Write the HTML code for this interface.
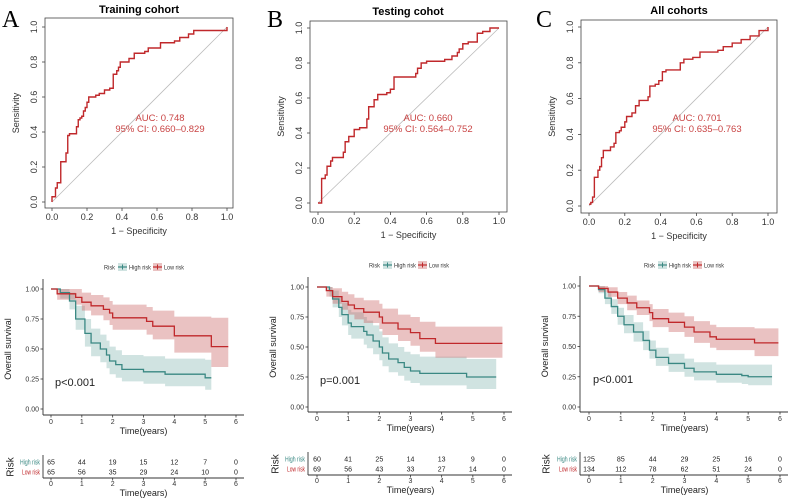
<!DOCTYPE html>
<html><head><meta charset="utf-8"><style>
body{margin:0;background:#fff;}
svg{display:block;font-family:"Liberation Sans",Arial,sans-serif;}
</style></head><body>
<svg id="fig" width="793" height="499" viewBox="0 0 793 499"></svg>
<script>
// ROC data (1-specificity, sensitivity) step points
const rocA_fpr=[0,0,0.02,0.03,0.05,0.07,0.08,0.09,0.1,0.13,0.14,0.15,0.16,0.17,0.18,0.19,0.2,0.21,0.25,0.27,0.3,0.33,0.35,0.35,0.37,0.38,0.39,0.44,0.47,0.53,0.55,0.62,0.62,0.7,0.73,0.78,0.81,1.0,1.0];
const rocA_tpr=[0,0.03,0.08,0.11,0.23,0.23,0.28,0.38,0.39,0.39,0.43,0.47,0.48,0.49,0.52,0.54,0.57,0.6,0.61,0.62,0.64,0.65,0.66,0.73,0.75,0.77,0.8,0.82,0.85,0.86,0.88,0.88,0.91,0.92,0.94,0.96,0.98,0.98,1.0];
const rocB_fpr=[0,0.02,0.02,0.04,0.05,0.07,0.08,0.13,0.14,0.15,0.17,0.2,0.2,0.23,0.26,0.27,0.28,0.31,0.31,0.33,0.38,0.4,0.41,0.42,0.53,0.54,0.55,0.57,0.6,0.7,0.74,0.77,0.78,0.8,0.83,0.88,0.88,0.91,0.95,1];
const rocB_tpr=[0,0,0.14,0.16,0.21,0.24,0.26,0.26,0.29,0.35,0.38,0.38,0.42,0.43,0.43,0.48,0.55,0.55,0.59,0.62,0.63,0.65,0.65,0.72,0.72,0.74,0.77,0.8,0.81,0.82,0.84,0.86,0.88,0.91,0.92,0.92,0.97,0.98,1.0,1.0];
const rocC_fpr=[0,0.01,0.02,0.03,0.03,0.05,0.06,0.07,0.08,0.12,0.14,0.15,0.17,0.18,0.2,0.21,0.24,0.26,0.28,0.33,0.34,0.37,0.39,0.41,0.43,0.5,0.51,0.53,0.58,0.62,0.72,0.75,0.8,0.85,0.9,0.95,1,1];
const rocC_tpr=[0.01,0.02,0.05,0.07,0.16,0.2,0.22,0.27,0.31,0.33,0.35,0.41,0.42,0.44,0.47,0.5,0.52,0.56,0.59,0.61,0.67,0.68,0.7,0.75,0.76,0.76,0.8,0.82,0.83,0.86,0.87,0.89,0.91,0.93,0.95,0.98,0.99,1.0];
const rocTicks=[0,0.2,0.4,0.6,0.8,1.0];
const rocTickLabels=["0.0","0.2","0.4","0.6","0.8","1.0"];
const rocTitles=["Training cohort","Testing cohot","All cohorts"];
const aucLabels=["AUC: 0.748","AUC: 0.660","AUC: 0.701"];
const ciLabels=["95% CI: 0.660\u20130.829","95% CI: 0.564\u20130.752","95% CI: 0.635\u20130.763"];

// KM data
const kmA_hi_t=[0,0.3,0.6,0.8,1.1,1.3,1.6,1.8,1.9,2.1,2.3,3.0,3.7,5.0,5.2];
const kmA_hi_s=[1,0.97,0.9,0.75,0.63,0.55,0.5,0.45,0.4,0.37,0.33,0.31,0.29,0.26,0.26];
const kmA_hi_lo=[1,0.92,0.83,0.66,0.52,0.44,0.39,0.34,0.29,0.26,0.23,0.21,0.19,0.16,0.16];
const kmA_hi_up=[1,1,0.97,0.86,0.75,0.67,0.62,0.57,0.52,0.49,0.45,0.44,0.42,0.41,0.41];
const kmA_lo_t=[0,0.2,0.8,1.0,1.3,1.7,1.9,2.0,3.1,3.3,4.0,5.2,5.75];
const kmA_lo_s=[1,0.96,0.93,0.89,0.86,0.83,0.8,0.76,0.73,0.69,0.61,0.52,0.52];
const kmA_lo_lo=[1,0.91,0.87,0.82,0.78,0.74,0.7,0.66,0.62,0.58,0.47,0.35,0.35];
const kmA_lo_up=[1,1,1,0.97,0.95,0.93,0.9,0.87,0.85,0.82,0.77,0.76,0.76];
const kmB_hi_t=[0,0.4,0.5,0.7,0.8,1.0,1.1,1.5,1.6,1.8,2.0,2.1,2.3,2.6,2.8,3.0,3.3,4.8,5.75];
const kmB_hi_s=[1,0.97,0.9,0.83,0.77,0.7,0.67,0.63,0.6,0.55,0.5,0.45,0.4,0.37,0.33,0.3,0.28,0.25,0.25];
const kmB_hi_lo=[1,0.92,0.83,0.75,0.68,0.6,0.57,0.52,0.49,0.44,0.39,0.34,0.29,0.26,0.22,0.2,0.18,0.15,0.15];
const kmB_hi_up=[1,1,0.97,0.92,0.87,0.81,0.79,0.75,0.72,0.68,0.63,0.58,0.53,0.5,0.46,0.44,0.42,0.4,0.4];
const kmB_lo_t=[0,0.3,0.5,0.8,1.0,1.2,1.5,2.0,2.1,2.6,3.0,3.3,3.8,5.95];
const kmB_lo_s=[1,0.97,0.92,0.88,0.85,0.82,0.79,0.75,0.7,0.65,0.62,0.57,0.53,0.53];
const kmB_lo_lo=[1,0.92,0.86,0.81,0.77,0.73,0.7,0.65,0.6,0.55,0.51,0.46,0.41,0.41];
const kmB_lo_up=[1,1,0.99,0.96,0.94,0.91,0.89,0.86,0.82,0.77,0.75,0.71,0.67,0.67];
const kmC_hi_t=[0,0.3,0.5,0.7,0.9,1.1,1.4,1.7,1.9,2.1,2.5,3.0,3.3,4.0,4.8,5.0,5.75];
const kmC_hi_s=[1,0.97,0.9,0.83,0.75,0.68,0.62,0.55,0.47,0.41,0.36,0.32,0.29,0.27,0.26,0.25,0.25];
const kmC_hi_lo=[1,0.94,0.85,0.77,0.68,0.61,0.54,0.47,0.4,0.34,0.29,0.25,0.22,0.2,0.19,0.18,0.18];
const kmC_hi_up=[1,1,0.95,0.89,0.82,0.76,0.7,0.63,0.55,0.49,0.44,0.4,0.37,0.35,0.35,0.35,0.35];
const kmC_lo_t=[0,0.3,0.6,0.9,1.2,1.5,1.9,2.0,2.5,3.0,3.3,3.8,4.0,5.2,5.95];
const kmC_lo_s=[1,0.98,0.95,0.9,0.86,0.82,0.78,0.73,0.7,0.66,0.62,0.58,0.56,0.53,0.53];
const kmC_lo_lo=[1,0.95,0.91,0.85,0.8,0.76,0.71,0.66,0.62,0.58,0.53,0.49,0.47,0.42,0.42];
const kmC_lo_up=[1,1,0.99,0.95,0.92,0.88,0.85,0.81,0.78,0.75,0.71,0.68,0.66,0.65,0.65];
const kmTimeTicks=[0,1,2,3,4,5,6];
const kmYTicks=[0,0.25,0.5,0.75,1];
const kmYLabels=["0.00","0.25","0.50","0.75","1.00"];
const pLabels=["p<0.001","p=0.001","p<0.001"];
const tableHigh=[[65,44,19,15,12,7,0],[60,41,25,14,13,9,0],[125,85,44,29,25,16,0]];
const tableLow=[[65,56,35,29,24,10,0],[69,56,43,33,27,14,0],[134,112,78,62,51,24,0]];

const NS="http://www.w3.org/2000/svg";
const svg=document.getElementById('fig');
function mk(tag,attrs,parent,text){const e=document.createElementNS(NS,tag);for(const k in attrs)e.setAttribute(k,attrs[k]);if(text!==undefined)e.textContent=text;(parent||svg).appendChild(e);return e;}
const RED="#c0282b",TEAL="#3a8883",RED_BAND="rgba(200,95,95,0.38)",TEAL_BAND="rgba(120,175,170,0.35)";

const rocGeo=[
 {L:45,T:18,R:233,B:208,x0:52,x1:227,y0:202,y1:27,letter:"A",lx:2,tx:139,ty:13,ax:160},
 {L:310,T:21,R:507,B:212,x0:318,x1:499,y0:203,y1:28,letter:"B",lx:267,tx:408,ty:15,ax:428},
 {L:581,T:20,R:777,B:213,x0:589,x1:768,y0:206,y1:27,letter:"C",lx:536,tx:679,ty:14,ax:697}];
const rocData=[[rocA_fpr,rocA_tpr],[rocB_fpr,rocB_tpr],[rocC_fpr,rocC_tpr]];

rocGeo.forEach((g,i)=>{
  const grp=mk('g',{});
  
  
  const X=v=>g.x0+v*(g.x1-g.x0), Y=v=>g.y0-v*(g.y0-g.y1);
  const lt=mk('text',{x:g.lx,y:27,'font-family':'Liberation Serif,serif','font-size':24},grp,g.letter);
  
  
  const tt=mk('text',{x:g.tx,y:g.ty,'text-anchor':'middle','font-size':11,'font-weight':'bold'},grp,rocTitles[i]);
  
  
  const box=mk('rect',{x:g.L,y:g.T,width:g.R-g.L,height:g.B-g.T,fill:'none',stroke:'#444','stroke-width':0.8},grp);
  
  
  const diag=mk('line',{x1:X(0),y1:Y(0),x2:X(1),y2:Y(1),stroke:'#bbb','stroke-width':0.8},grp);
  
  
  rocTicks.forEach((t,k)=>{
    mk('line',{x1:X(t),y1:g.B,x2:X(t),y2:g.B+3,stroke:'#444','stroke-width':0.8},grp);
    const xl=mk('text',{x:X(t),y:g.B+12,'text-anchor':'middle','font-size':9,fill:'#333'},grp,rocTickLabels[k]);
    
    
    mk('line',{x1:g.L,y1:Y(t),x2:g.L-3,y2:Y(t),stroke:'#444','stroke-width':0.8},grp);
    const yl=mk('text',{x:g.L-8,y:Y(t),'text-anchor':'middle','font-size':9,fill:'#333',transform:`rotate(-90 ${g.L-8} ${Y(t)})`},grp,rocTickLabels[k]);
    
    
  });
  const xt=mk('text',{x:(g.L+g.R)/2,y:g.B+26,'text-anchor':'middle','font-size':9,fill:'#333'},grp,'1 \u2212 Specificity');
  
  
  const yc=(g.T+g.B)/2;
  const yt=mk('text',{x:g.L-26,y:yc,'text-anchor':'middle','font-size':9,fill:'#333',transform:`rotate(-90 ${g.L-26} ${yc})`},grp,'Sensitivity');
  
  
  const [fx,ty]=rocData[i];
  let d=`M${X(fx[0])},${Y(ty[0])}`;
  for(let k=1;k<fx.length;k++){d+=` H${X(fx[k])} V${Y(ty[k])}`;}
  const p=mk('path',{d,fill:'none',stroke:RED,'stroke-width':1.4},grp);
  
  
  const a1=mk('text',{x:g.ax,y:121,'text-anchor':'middle','font-size':9.5,fill:'#c94444'},grp,aucLabels[i]);
  
  
  const a2=mk('text',{x:g.ax,y:132,'text-anchor':'middle','font-size':9.5,fill:'#c94444'},grp,ciLabels[i]);
  
  
});

const kmGeo=[
 {ax:43,x0:51,x6:236,y1:289,y0:409,xa:415,top:279,r1:462,r2:472,ta:478,pY:386,legX:104,legY:267,riskX:10,px:55},
 {ax:308,x0:317,x6:504,y1:287,y0:407,xa:412,top:277,r1:459,r2:469,ta:475,pY:384,legX:369,legY:265,riskX:275,px:320},
 {ax:580,x0:589,x6:780,y1:286,y0:407,xa:412,top:276,r1:459,r2:469,ta:475,pY:383,legX:644,legY:265,riskX:546,px:593}];
const kmData=[
 [[kmA_hi_t,kmA_hi_s,kmA_hi_lo,kmA_hi_up],[kmA_lo_t,kmA_lo_s,kmA_lo_lo,kmA_lo_up]],
 [[kmB_hi_t,kmB_hi_s,kmB_hi_lo,kmB_hi_up],[kmB_lo_t,kmB_lo_s,kmB_lo_lo,kmB_lo_up]],
 [[kmC_hi_t,kmC_hi_s,kmC_hi_lo,kmC_hi_up],[kmC_lo_t,kmC_lo_s,kmC_lo_lo,kmC_lo_up]]];

function stepPath(t,s,X,Y){let d=`M${X(t[0])},${Y(s[0])}`;for(let k=1;k<t.length;k++)d+=` H${X(t[k])} V${Y(s[k])}`;return d;}
function bandPath(t,lo,up,X,Y){
  let d=`M${X(t[0])},${Y(up[0])}`;
  for(let k=1;k<t.length;k++)d+=` H${X(t[k])} V${Y(up[k])}`;
  d+=` V${Y(lo[t.length-1])}`;
  for(let k=t.length-1;k>0;k--)d+=` H${X(t[k])} V${Y(lo[k-1])}`;
  d+=` H${X(t[0])} Z`;return d;}

kmGeo.forEach((g,i)=>{
  const grp=mk('g',{});
  
  
  const X=v=>g.x0+v*(g.x6-g.x0)/6, Y=v=>g.y0-v*(g.y0-g.y1);
  // legend
  const lg=mk('g',{},grp);
  
  
  mk('text',{x:g.legX,y:g.legY+2.5,'font-size':6.5,fill:'#333',textLength:11,lengthAdjust:'spacingAndGlyphs'},lg,'Risk');
  [[TEAL,TEAL_BAND,'High risk',g.legX+14,22],[RED,RED_BAND,'Low risk',g.legX+49,20]].forEach(([c,b,lab,x,w])=>{
    const e=mk('g',{},lg);
    
    
    mk('rect',{x:x,y:g.legY-4,width:9,height:8,fill:b},e);
    mk('line',{x1:x,y1:g.legY,x2:x+9,y2:g.legY,stroke:c,'stroke-width':1.2},e);
    mk('line',{x1:x+4.5,y1:g.legY-2.5,x2:x+4.5,y2:g.legY+2.5,stroke:c,'stroke-width':1},e);
    mk('text',{x:x+11,y:g.legY+2.5,'font-size':6.5,fill:'#333',textLength:w,lengthAdjust:'spacingAndGlyphs'},e,lab);
  });
  // bands + curves
  const cols=[[TEAL,TEAL_BAND,'high-risk'],[RED,RED_BAND,'low-risk']];
  kmData[i].forEach(([t,s,lo,up],j)=>{
    const b=mk('path',{d:bandPath(t,lo,up,X,Y),fill:cols[j][1],stroke:'none'},grp);
    
    
  });
  kmData[i].forEach(([t,s,lo,up],j)=>{
    const c=mk('path',{d:stepPath(t,s,X,Y),fill:'none',stroke:cols[j][0],'stroke-width':1.3},grp);
    
    
  });
  // axes
  mk('line',{x1:g.ax,y1:g.top,x2:g.ax,y2:g.xa,stroke:'#333','stroke-width':0.9},grp);
  mk('line',{x1:g.ax,y1:g.xa,x2:g.x6+8,y2:g.xa,stroke:'#333','stroke-width':0.9},grp);
  kmYTicks.forEach((v,k)=>{
    mk('line',{x1:g.ax-2.5,y1:Y(v),x2:g.ax,y2:Y(v),stroke:'#333','stroke-width':0.8},grp);
    const l=mk('text',{x:g.ax-4,y:Y(v)+2.5,'text-anchor':'end','font-size':7,fill:'#333'},grp,kmYLabels[k]);
    
    
  });
  kmTimeTicks.forEach(t=>{
    mk('line',{x1:X(t),y1:g.xa,x2:X(t),y2:g.xa+2.5,stroke:'#333','stroke-width':0.8},grp);
    const l=mk('text',{x:X(t),y:g.xa+9,'text-anchor':'middle','font-size':7,fill:'#333'},grp,String(t));
    
    
  });
  const xt=mk('text',{x:X(3),y:g.xa+19,'text-anchor':'middle','font-size':9,fill:'#222'},grp,'Time(years)');
  
  
  const yc=(g.y0+g.y1)/2, yx=g.ax-32;
  const yt=mk('text',{x:yx,y:yc,'text-anchor':'middle','font-size':9,fill:'#222',transform:`rotate(-90 ${yx} ${yc})`},grp,'Overall survival');
  
  
  const pv=mk('text',{x:g.px,y:g.pY,'font-size':11,fill:'#222'},grp,pLabels[i]);
  
  
  // risk table
  const tb=mk('g',{},grp);
  
  
  const rc=(g.r1+g.r2)/2;
  mk('text',{x:g.riskX,y:rc,'text-anchor':'middle','font-size':10,fill:'#222',transform:`rotate(-90 ${g.riskX} ${rc})`,dy:3.5},tb,'Risk');
  mk('line',{x1:g.ax,y1:g.r1-7,x2:g.ax,y2:g.ta,stroke:'#333','stroke-width':0.9},tb);
  mk('line',{x1:g.ax,y1:g.ta,x2:g.x6+8,y2:g.ta,stroke:'#333','stroke-width':0.9},tb);
  mk('text',{x:g.ax-3,y:g.r1+2.5,'text-anchor':'end','font-size':7.5,fill:TEAL,textLength:20,lengthAdjust:'spacingAndGlyphs'},tb,'High risk');
  mk('text',{x:g.ax-3,y:g.r2+2.5,'text-anchor':'end','font-size':7.5,fill:RED,textLength:18,lengthAdjust:'spacingAndGlyphs'},tb,'Low risk');
  kmTimeTicks.forEach((t,k)=>{
    mk('text',{x:X(t),y:g.r1+2.5,'text-anchor':'middle','font-size':7,fill:'#222'},tb,String(tableHigh[i][k]));
    mk('text',{x:X(t),y:g.r2+2.5,'text-anchor':'middle','font-size':7,fill:'#222'},tb,String(tableLow[i][k]));
    mk('line',{x1:X(t),y1:g.ta,x2:X(t),y2:g.ta+2.5,stroke:'#333','stroke-width':0.8},tb);
    mk('text',{x:X(t),y:g.ta+8,'text-anchor':'middle','font-size':7,fill:'#333'},tb,String(t));
  });
  mk('text',{x:X(3),y:g.ta+18,'text-anchor':'middle','font-size':9,fill:'#222'},tb,'Time(years)');
});
</script>
</body></html>
